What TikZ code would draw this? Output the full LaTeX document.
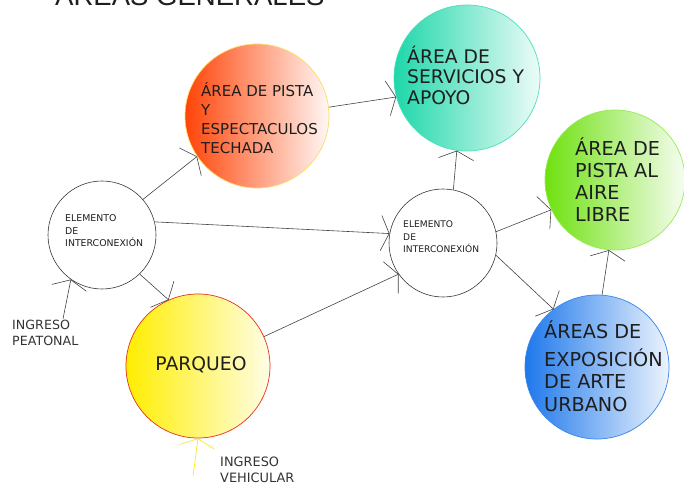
\documentclass[tikz,border=0pt]{standalone}
\usepackage{fontspec}
\setmainfont{DejaVu Sans}
\newfontfamily\titlefont{Liberation Sans}
\usetikzlibrary{arrows.meta}

\begin{document}
\begin{tikzpicture}[x=0.03cm, y=-0.03cm]
    % --- MANUAL CONFIGURATION ---
    % 1. One pixel of the sketch (coordinates are given in pixels)
    \def\Px{0.03cm}

    % 2. Define colors explicitly for this diagram
    \definecolor{myRed}{RGB}{255, 68, 8}
    \definecolor{myCyan}{RGB}{30, 215, 170}
    \definecolor{myGreen}{RGB}{110, 225, 15}
    \definecolor{myBlue}{RGB}{30, 120, 235}
    \definecolor{myYellow}{RGB}{255, 238, 0}
    \definecolor{myInk}{RGB}{30, 30, 30}

    % --- STYLES ---
    \tikzset{
        areaNode/.style={circle, inner sep=0pt, line width=0.6pt},
        linkNode/.style={circle, draw=black!80, fill=white, inner sep=0pt, line width=0.5pt, minimum size=2*54*\Px},
        textNode/.style={inner sep=0pt, align=left, text=myInk, anchor=west},
        arrowLine/.style={-{Straight Barb[length=7pt, width=30pt]}, draw=black!75, line width=0.5pt}
    }

    % --- FRAME ---
    \useasboundingbox (0,0) rectangle (684,489);
    \clip (0,0) rectangle (684,489);

    % Title (cut by the top edge)
    \node[anchor=base west, inner sep=0pt, text=myInk, font=\titlefont\fontsize{23.5}{26}\selectfont] (titulo) at (55,6) {ÁREAS GENERALES};

    % --- NODES ---

    % Coloured areas
    \node[areaNode, minimum size=2*72*\Px, draw=yellow!60!orange!60, left color=myRed, middle color=myRed!60, right color=myRed!4] (pista) at (257,116) {};
    \node[areaNode, minimum size=2*73*\Px, draw=myCyan!80, left color=myCyan, middle color=myCyan!60, right color=myCyan!8] (servicios) at (467,78) {};
    \node[areaNode, minimum size=2*70*\Px, draw=myGreen!70, left color=myGreen, middle color=myGreen!60, right color=myGreen!6] (aire) at (615,180) {};
    \node[areaNode, minimum size=2*72*\Px, draw=myBlue!90, left color=myBlue, middle color=myBlue!65, right color=myBlue!8] (expo) at (597,367) {};
    \node[areaNode, minimum size=2*72*\Px, draw=red!60!brown, left color=myYellow, middle color=myYellow!65, right color=myYellow!10] (parqueo) at (198,366) {};

    % Connection elements
    \node[linkNode] (elemA) at (102,235) {};
    \node[linkNode] (elemB) at (443,243) {};

    % Texts
    \node[textNode, font=\fontsize{12.8}{16.2}\selectfont] (pistaTxt) at (201,118) {ÁREA DE PISTA\\Y\\ESPECTACULOS\\TECHADA};
    \node[textNode, font=\fontsize{16}{17.5}\selectfont] (serviciosTxt) at (407,75) {ÁREA DE\\SERVICIOS Y\\APOYO};
    \node[textNode, font=\fontsize{16.4}{18.8}\selectfont] (aireTxt) at (575,180) {ÁREA DE\\PISTA AL\\AIRE\\LIBRE};
    \node[textNode, font=\fontsize{16.4}{19.2}\selectfont] (expoTxt) at (544,366) {ÁREAS DE\\[4.5pt]EXPOSICIÓN\\DE ARTE\\URBANO};
    \node[inner sep=0pt, text=myInk, font=\fontsize{16}{18}\selectfont] (parqueoTxt) at (201,365) {PARQUEO};
    \node[textNode, font=\fontsize{8}{10.7}\selectfont] (elemATxt) at (65,231) {ELEMENTO\\DE\\INTERCONEXIÓN};
    \node[textNode, font=\fontsize{7.8}{10.7}\selectfont] (elemBTxt) at (403,237) {ELEMENTO\\DE\\INTERCONEXIÓN};

    % Entrances
    \node[textNode, text=black!80, font=\fontsize{10.8}{13.7}\selectfont] (peaton) at (12,333) {INGRESO\\PEATONAL};
    \node[textNode, text=black!80, font=\fontsize{11}{14}\selectfont] (vehic) at (220,470) {INGRESO\\VEHICULAR};
    \coordinate (peatonIn) at (63,319);
    \coordinate (vehicIn) at (193,476);

    % --- ARROWS ---
    \draw[arrowLine] (peatonIn) -- (elemA.235);
    \draw[arrowLine, draw=yellow!85!orange] (vehicIn) -- (parqueo.270);

    \draw[arrowLine] (elemA.41) -- (pista.214);
    \draw[arrowLine] (elemA.14) -- (elemB.170);
    \draw[arrowLine] (elemA.-46) -- (parqueo.114);
    \draw[arrowLine] (pista.7) -- (servicios.195);
    \draw[arrowLine] (parqueo.24) -- (elemB.215);
    \draw[arrowLine] (elemB.79) -- (servicios.262);
    \draw[arrowLine] (elemB.12) -- (aire.205);
    \draw[arrowLine] (elemB.-13) -- (expo.127);
    \draw[arrowLine] (expo.86) -- (aire.265);

\end{tikzpicture}
\end{document}
